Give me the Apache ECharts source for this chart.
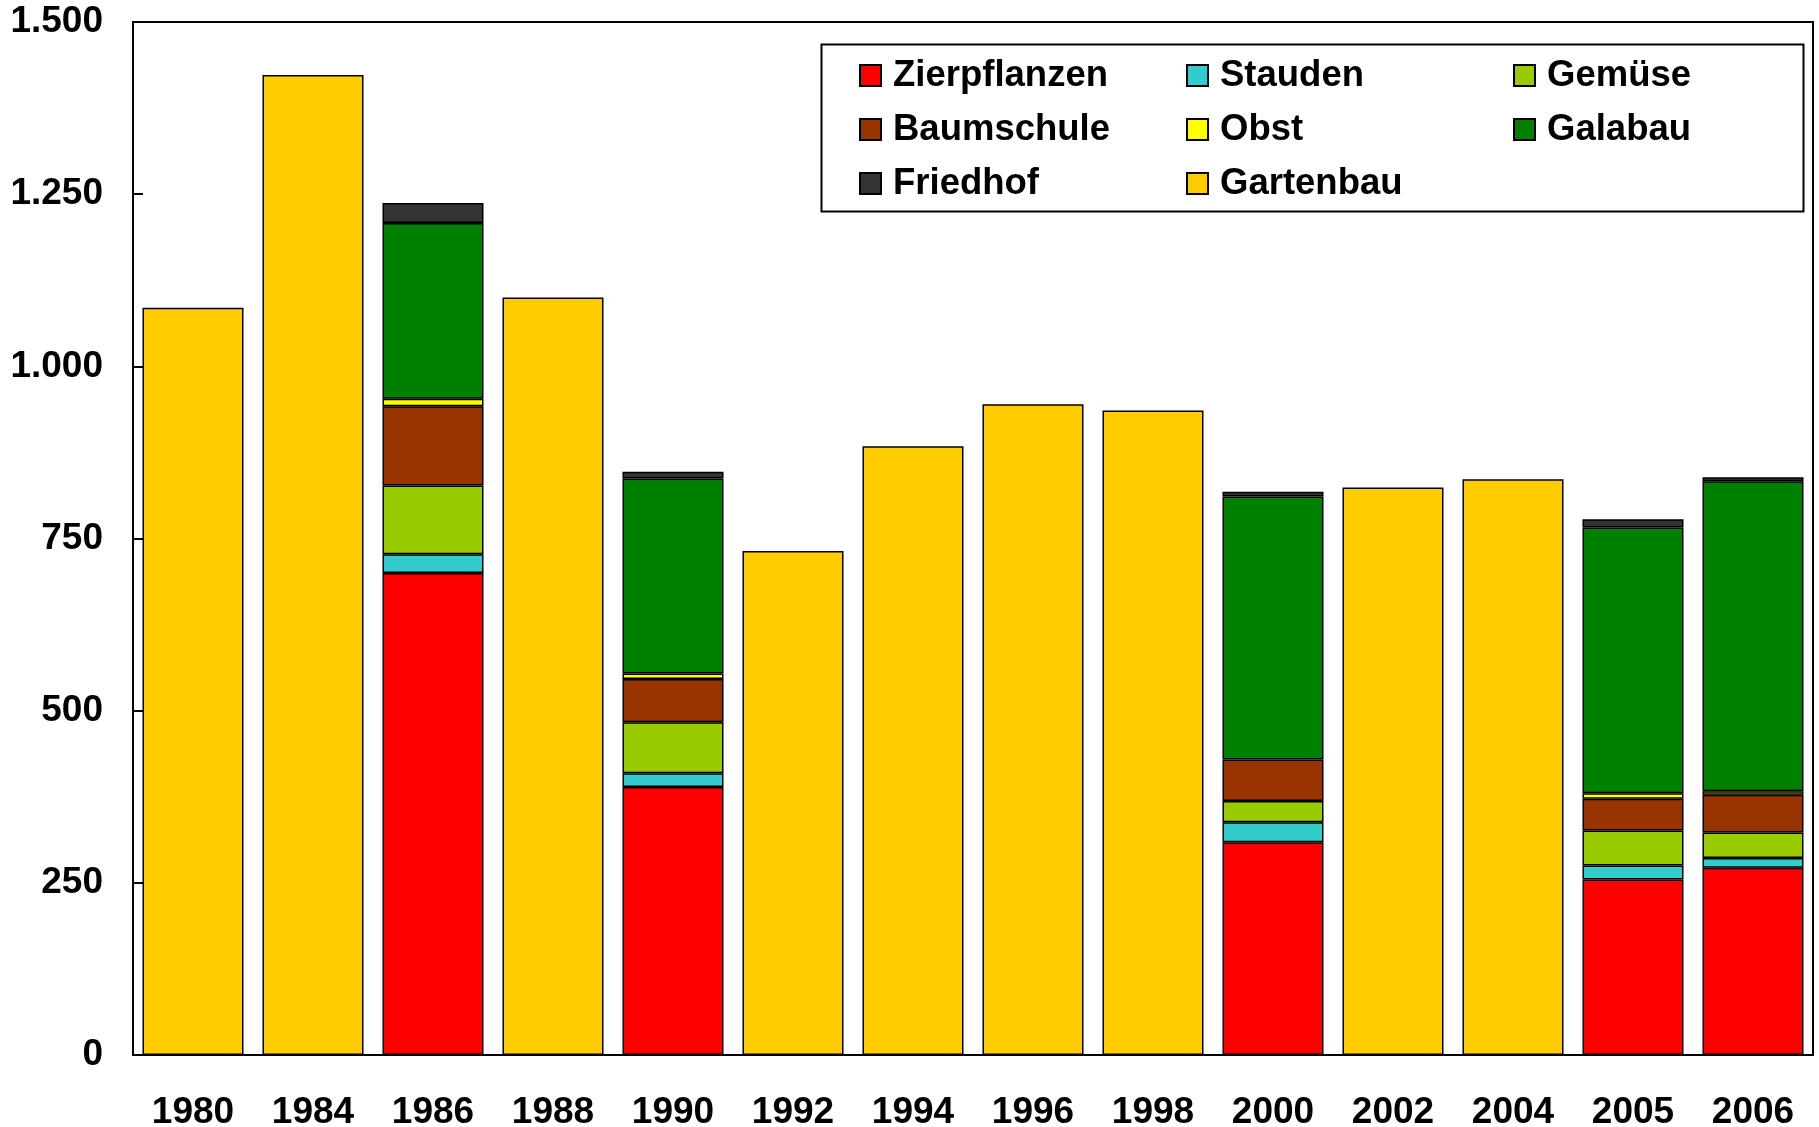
<!DOCTYPE html>
<html>
<head>
<meta charset="utf-8">
<script src="https://cdn.jsdelivr.net/npm/echarts@6/dist/echarts.min.js"></script>
<style>
html,body{margin:0;padding:0;background:#fff;}
#chart{width:1819px;height:1127px;}
</style>
</head>
<body>
<div id="chart"></div>
<script>
const years = ['1980','1984','1986','1988','1990','1992','1994','1996','1998','2000','2002','2004','2005','2006'];
const zierpflanzen = [null,null,700,null,389,null,null,null,null,309,null,null,255,272];
const stauden      = [null,null,27,null,20,null,null,null,null,29,null,null,20,14];
const gemuese      = [null,null,100,null,74,null,null,null,null,31,null,null,51,37];
const baumschule   = [null,null,115,null,63,null,null,null,null,60,null,null,46,55];
const obst         = [null,null,11,null,8,null,null,null,null,null,null,null,8,5];
const galabau      = [null,null,255,null,283,null,null,null,null,382,null,null,386,450];
const friedhof     = [null,null,29,null,10,null,null,null,null,7,null,null,12,6];
const gartenbau    = [1085,1423,null,1100,null,732,884,945,936,null,824,836,null,null];
const yTickLabels  = ['0','250','500','750','1.000','1.250','1.500'];

const seriesDefs = [
  ['Zierpflanzen', zierpflanzen, '#FF0000'],
  ['Stauden', stauden, '#33CCCC'],
  ['Gemüse', gemuese, '#99CC00'],
  ['Baumschule', baumschule, '#993300'],
  ['Obst', obst, '#FFFF00'],
  ['Galabau', galabau, '#008000'],
  ['Friedhof', friedhof, '#333333'],
  ['Gartenbau', gartenbau, '#FFCC00']
];

const font = '"Liberation Sans", Arial, sans-serif';
const chart = echarts.init(document.getElementById('chart'));
chart.setOption({
  animation: false,
  backgroundColor: '#fff',
  grid: {left: 133, right: 6, top: 22, bottom: 72, show: true, borderColor: '#000', borderWidth: 2, outerBoundsMode: 'none', containLabel: false},
  legend: {
    left: 859, top: 57, width: 970,
    padding: 0, itemGap: 17, itemWidth: 21, itemHeight: 21,
    icon: 'rect',
    data: seriesDefs.map(s => s[0]),
    textStyle: {fontFamily: font, fontWeight: 'bold', fontSize: 36.5, color: '#000', width: 276, lineHeight: 34, padding: [0,0,0,7]}
  },
  graphic: [{type: 'rect', left: 819, top: 42, shape: {width: 982, height: 167}, style: {fill: 'none', stroke: '#000', lineWidth: 2}, z: 100}],
  xAxis: {
    type: 'category', data: years,
    axisLine: {lineStyle: {color: '#000', width: 2}},
    axisTick: {show: false},
    axisLabel: {fontFamily: font, fontWeight: 'bold', fontSize: 37, color: '#000', margin: 39}
  },
  yAxis: {
    type: 'value', min: 0, max: 1500, interval: 250,
    axisLine: {show: true, lineStyle: {color: '#000', width: 2}},
    axisTick: {show: true, inside: true, length: 10, lineStyle: {color: '#000', width: 2}},
    splitLine: {show: false},
    axisLabel: {fontFamily: font, fontWeight: 'bold', fontSize: 37, color: '#000', margin: 30,
      formatter: v => yTickLabels[Math.round(v / 250)]}
  },
  series: seriesDefs.map(s => ({
    name: s[0], type: 'bar', stack: 'total', data: s[1], barWidth: 101,
    itemStyle: {color: s[2], borderColor: '#000', borderWidth: 1.5}
  }))
});
</script>
</body>
</html>
